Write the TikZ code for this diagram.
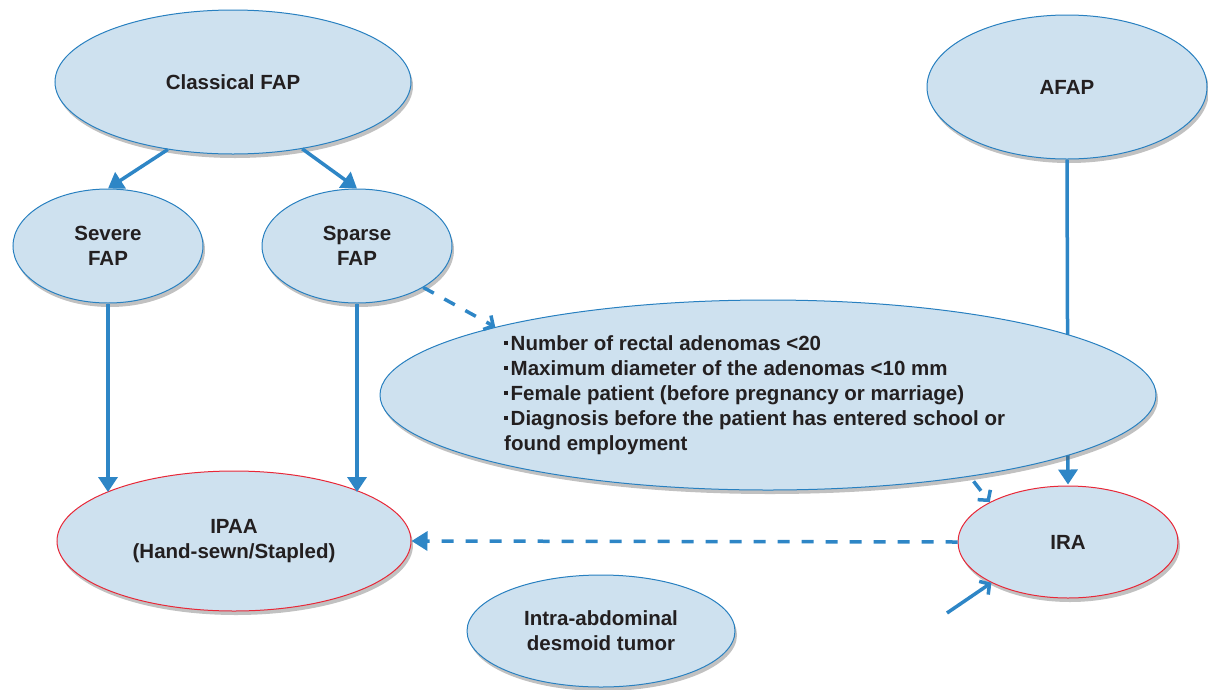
\documentclass[tikz,border=0pt]{standalone}
\usepackage{fontspec}
\setmainfont{Liberation Sans}
\usetikzlibrary{shapes.geometric,arrows.meta,shadows,calc}
\definecolor{fillb}{RGB}{206,225,239}
\definecolor{lineb}{RGB}{40,128,192}
\definecolor{arrb}{RGB}{46,134,198}
\definecolor{redb}{RGB}{232,40,56}
\definecolor{txt}{RGB}{35,31,32}
\newcommand{\bul}{\raisebox{5.5pt}{\rule{4pt}{4pt}}\hspace{2.5pt}}
\tikzset{
  lbl/.style={text=txt, font=\bfseries\fontsize{20.5}{25}\selectfont},
  oval/.style={ellipse, draw=lineb, line width=1pt, fill=fillb, inner sep=0pt,
    align=center, lbl,
    drop shadow={shadow xshift=2pt, shadow yshift=-4pt, opacity=.35, fill=black!70}},
  redoval/.style={oval, draw=redb},
  solidarr/.style={draw=arrb, line width=3.5pt, -{Triangle[length=15pt,width=19pt]}},
  barbarr/.style={draw=arrb, line width=3.5pt, -{Straight Barb[length=7pt,width=16pt]}},
  dasharr/.style={draw=arrb, line width=3.5pt, dash pattern=on 12pt off 12pt},
}
\begin{document}
\begin{tikzpicture}[x=1pt,y=-1pt]
\useasboundingbox (0,0) rectangle (1208,689);
% nodes
\node[oval, minimum width=356pt, minimum height=144pt] (cfap) at (233,82) {Classical FAP};
\node[oval, minimum width=280pt, minimum height=144pt] (afap) at (1067,87) {AFAP};
\node[oval, minimum width=190pt, minimum height=114pt] (severe) at (108,246) {Severe\\FAP};
\node[oval, minimum width=190pt, minimum height=114pt] (sparse) at (357,246) {Sparse\\FAP};
\node[redoval, minimum width=354pt, minimum height=140pt] (ipaa) at (234,541) {IPAA\\(Hand-sewn/Stapled)};
\node[redoval, minimum width=220pt, minimum height=112pt] (ira) at (1068,542) {IRA};
\node[oval, minimum width=268pt, minimum height=112pt] (desmoid) at (601,631) {Intra-abdominal\\desmoid tumor};
% AFAP -> IRA (behind the large ellipse)
\draw[solidarr, shorten >=1pt] (afap.south) -- (ira.north);
% large criteria ellipse
\node[oval, minimum width=776pt, minimum height=190pt] (crit) at (768,395) {};
\node[anchor=west, align=left, inner sep=0pt, lbl] (crittext) at (504,395)
  {\bul Number of rectal adenomas <20\\
   \bul Maximum diameter of the adenomas <10 mm\\
   \bul Female patient (before pregnancy or marriage)\\
   \bul Diagnosis before the patient has entered school or\\
   found employment};
% connectors
\draw[solidarr] (cfap.226) -- (severe.north);
\draw[solidarr] (cfap.316) -- (sparse.north);
\draw[solidarr] (severe.south) -- (severe.south |- ipaa.159);
\draw[solidarr] (sparse.south) -- (sparse.south |- ipaa.21);
\draw[dasharr, barbarr, dash pattern=on 12pt off 12pt] (sparse.328) -- (crit.166);
\draw[dasharr, barbarr, dash pattern=on 12pt off 12pt, shorten <=6pt] (crit.338) -- (ira.153);
\draw[dasharr, -{Triangle[length=16pt,width=19pt]}] (ira.west) -- (ipaa.east);
\coordinate (dstart) at (947,613);
\draw[barbarr] (dstart) -- (ira.208);
\end{tikzpicture}
\end{document}
